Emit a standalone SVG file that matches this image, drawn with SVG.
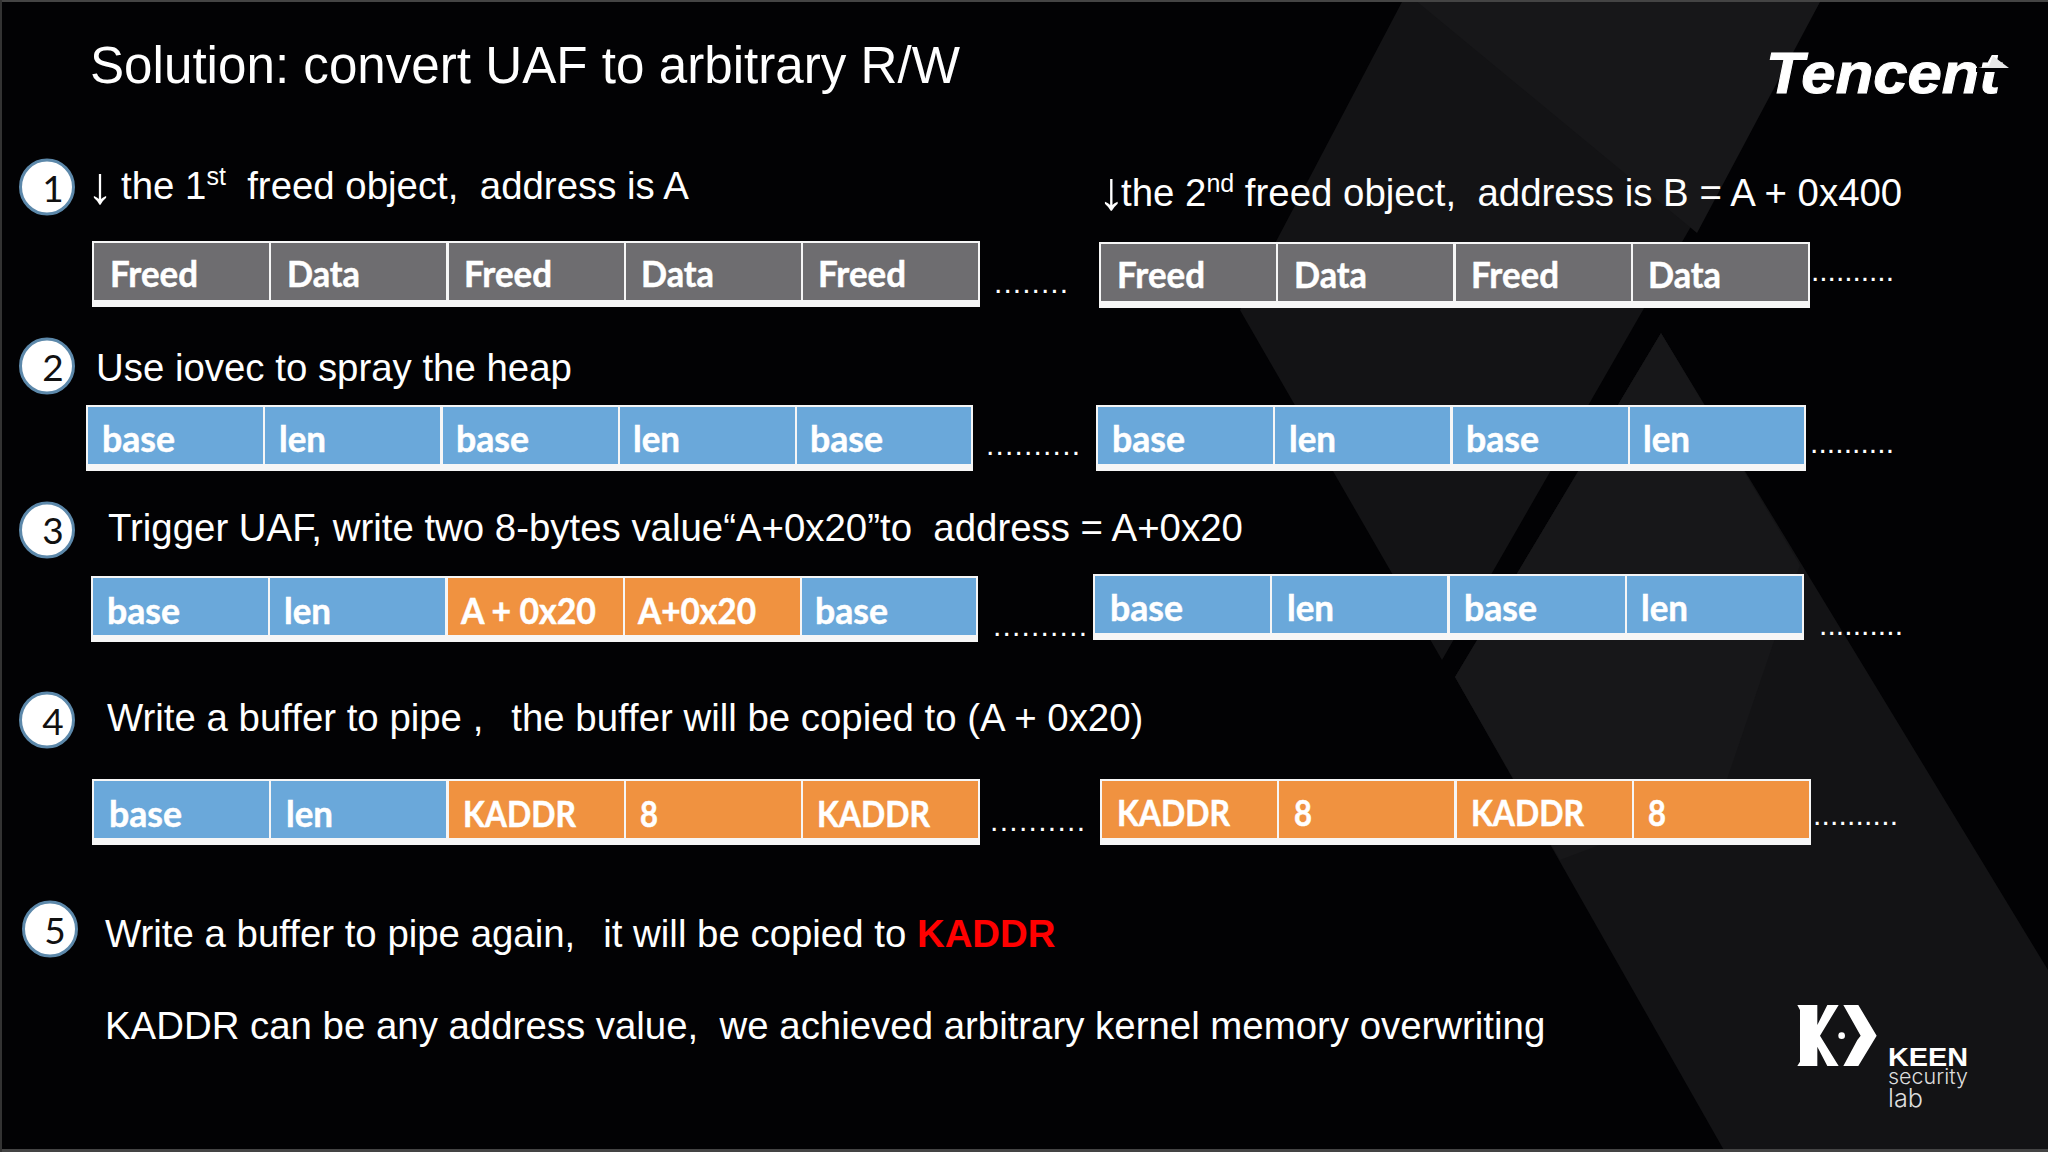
<svg xmlns="http://www.w3.org/2000/svg" width="2048" height="1152" viewBox="0 0 2048 1152">
<style>
.t{font-family:"Liberation Sans",Arial,sans-serif;font-size:38.4px;fill:#fff}
.c{font-family:Lato,"Open Sans",sans-serif;font-weight:700;font-size:36px;fill:#fff;stroke:#fff;stroke-width:.5}
.n{font-family:Lato,"Open Sans",sans-serif;font-size:37px;fill:#111;text-anchor:middle}
.d{font-family:"Liberation Sans",Arial,sans-serif;font-size:30px;fill:#fff}
.o{fill:#f6f6f6}
.g{fill:#6e6d70}.b{fill:#6aa8da}.r{fill:#f09240}
.k{fill:#fff;stroke:#5c88aa;stroke-width:3}
</style>
<rect width="2048" height="1152" fill="#020204"/>
<g id="background">
<polygon points="1403,0 1821,0 1442,660 1240,310" fill="#131315"/>
<polygon points="1415,0 1821,0 1697,233" fill="#171719"/>
<polygon points="1661,333 2048,970 2048,1152 1725,1152 1455,677" fill="#131315"/>
<polygon points="1661,333 1800,565 1720,800 1560,860 1455,677" fill="#171719"/>
<rect width="2048" height="2" fill="#444"/>
<rect y="1149" width="2048" height="3" fill="#444"/>
<rect width="2" height="1152" fill="#333"/>
</g>
<text class="t" x="90" y="83" style="font-size:51px" textLength="870" lengthAdjust="spacingAndGlyphs">Solution: convert UAF to arbitrary R/W</text>

<g id="step1">
<ellipse class="k" cx="47" cy="187" rx="26.5" ry="27"/><text class="n" x="53" y="202">1</text>
<text class="t" x="87" y="203" style="font-size:52px">↓</text>
<text class="t" x="121" y="199">the 1<tspan font-size="25" dy="-14">st</tspan><tspan dy="14" xml:space="preserve">  freed object,  address is A</tspan></text>
</g>
<g id="row1a" transform="translate(92,241)">
<rect class="o" width="888" height="66"/>
<rect class="g" x="2" y="2" width="175" height="57"/><rect class="g" x="179" y="2" width="175" height="57"/><rect class="g" x="357" y="2" width="175" height="57"/><rect class="g" x="534" y="2" width="175" height="57"/><rect class="g" x="711" y="2" width="175" height="57"/>
<text class="c" x="18" y="46" textLength="88" lengthAdjust="spacingAndGlyphs">Freed</text>
<text class="c" x="195" y="46" textLength="73" lengthAdjust="spacingAndGlyphs">Data</text>
<text class="c" x="372" y="46" textLength="88" lengthAdjust="spacingAndGlyphs">Freed</text>
<text class="c" x="549" y="46" textLength="73" lengthAdjust="spacingAndGlyphs">Data</text>
<text class="c" x="726" y="46" textLength="88" lengthAdjust="spacingAndGlyphs">Freed</text>
</g>
<text class="d" x="994" y="293" textLength="74">........</text>
<g id="step1b">
<text class="t" x="1098" y="209" style="font-size:54px">↓</text>
<text class="t" x="1121" y="206">the 2<tspan font-size="25" dy="-14">nd</tspan><tspan dy="14" xml:space="preserve"> freed object,  address is B = A + 0x400</tspan></text>
</g>
<g id="row1b" transform="translate(1099,242)">
<rect class="o" width="711" height="66"/>
<rect class="g" x="2" y="2" width="175" height="57"/><rect class="g" x="179" y="2" width="175" height="57"/><rect class="g" x="357" y="2" width="175" height="57"/><rect class="g" x="534" y="2" width="175" height="57"/>
<text class="c" x="18" y="46" textLength="88" lengthAdjust="spacingAndGlyphs">Freed</text>
<text class="c" x="195" y="46" textLength="73" lengthAdjust="spacingAndGlyphs">Data</text>
<text class="c" x="372" y="46" textLength="88" lengthAdjust="spacingAndGlyphs">Freed</text>
<text class="c" x="549" y="46" textLength="73" lengthAdjust="spacingAndGlyphs">Data</text>
</g>
<text class="d" x="1811" y="281" textLength="83">..........</text>

<g id="step2">
<ellipse class="k" cx="47" cy="366" rx="26.5" ry="27"/><text class="n" x="53" y="381">2</text>
<text class="t" x="96" y="381">Use iovec to spray the heap</text>
</g>
<g id="row2a" transform="translate(86,405)">
<rect class="o" width="887" height="66"/>
<rect class="b" x="2" y="2" width="175" height="57"/><rect class="b" x="179" y="2" width="175" height="57"/><rect class="b" x="357" y="2" width="175" height="57"/><rect class="b" x="534" y="2" width="175" height="57"/><rect class="b" x="711" y="2" width="174" height="57"/>
<text class="c" x="16" y="47" textLength="73" lengthAdjust="spacingAndGlyphs">base</text>
<text class="c" x="193" y="47" textLength="47" lengthAdjust="spacingAndGlyphs">len</text>
<text class="c" x="370" y="47" textLength="73" lengthAdjust="spacingAndGlyphs">base</text>
<text class="c" x="547" y="47" textLength="47" lengthAdjust="spacingAndGlyphs">len</text>
<text class="c" x="724" y="47" textLength="73" lengthAdjust="spacingAndGlyphs">base</text>
</g>
<text class="d" x="986" y="455" textLength="94">..........</text>
<g id="row2b" transform="translate(1096,405)">
<rect class="o" width="710" height="66"/>
<rect class="b" x="2" y="2" width="175" height="57"/><rect class="b" x="179" y="2" width="175" height="57"/><rect class="b" x="357" y="2" width="175" height="57"/><rect class="b" x="534" y="2" width="174" height="57"/>
<text class="c" x="16" y="47" textLength="73" lengthAdjust="spacingAndGlyphs">base</text>
<text class="c" x="193" y="47" textLength="47" lengthAdjust="spacingAndGlyphs">len</text>
<text class="c" x="370" y="47" textLength="73" lengthAdjust="spacingAndGlyphs">base</text>
<text class="c" x="547" y="47" textLength="47" lengthAdjust="spacingAndGlyphs">len</text>
</g>
<text class="d" x="1810" y="453" textLength="84">..........</text>

<g id="step3">
<ellipse class="k" cx="47" cy="530" rx="26.5" ry="27"/><text class="n" x="53" y="544">3</text>
<text class="t" x="108" y="541" xml:space="preserve">Trigger UAF, write two 8-bytes value“A+0x20”to  address = A+0x20</text>
</g>
<g id="row3a" transform="translate(91,576)">
<rect class="o" width="887" height="66"/>
<rect class="b" x="2" y="2" width="175" height="57"/><rect class="b" x="179" y="2" width="175" height="57"/><rect class="r" x="357" y="2" width="175" height="57"/><rect class="r" x="534" y="2" width="175" height="57"/><rect class="b" x="711" y="2" width="174" height="57"/>
<text class="c" x="16" y="48" textLength="73" lengthAdjust="spacingAndGlyphs">base</text>
<text class="c" x="193" y="48" textLength="47" lengthAdjust="spacingAndGlyphs">len</text>
<text class="c" x="370" y="48" textLength="135" lengthAdjust="spacingAndGlyphs">A + 0x20</text>
<text class="c" x="547" y="48" textLength="118" lengthAdjust="spacingAndGlyphs">A+0x20</text>
<text class="c" x="724" y="48" textLength="73" lengthAdjust="spacingAndGlyphs">base</text>
</g>
<text class="d" x="993" y="636" textLength="94">..........</text>
<g id="row3b" transform="translate(1093,574)">
<rect class="o" width="711" height="66"/>
<rect class="b" x="2" y="2" width="175" height="57"/><rect class="b" x="179" y="2" width="175" height="57"/><rect class="b" x="357" y="2" width="175" height="57"/><rect class="b" x="534" y="2" width="175" height="57"/>
<text class="c" x="17" y="47" textLength="73" lengthAdjust="spacingAndGlyphs">base</text>
<text class="c" x="194" y="47" textLength="47" lengthAdjust="spacingAndGlyphs">len</text>
<text class="c" x="371" y="47" textLength="73" lengthAdjust="spacingAndGlyphs">base</text>
<text class="c" x="548" y="47" textLength="47" lengthAdjust="spacingAndGlyphs">len</text>
</g>
<text class="d" x="1819" y="635" textLength="84">..........</text>

<g id="step4">
<ellipse class="k" cx="47" cy="720" rx="26.5" ry="27"/><text class="n" x="53" y="735">4</text>
<text class="t" x="107" y="731" xml:space="preserve">Write a buffer to pipe ,   <tspan dx="-4">the buffer will be copied to (A + 0x20)</tspan></text>
</g>
<g id="row4a" transform="translate(92,779)">
<rect class="o" width="888" height="66"/>
<rect class="b" x="2" y="2" width="175" height="57"/><rect class="b" x="179" y="2" width="175" height="57"/><rect class="r" x="357" y="2" width="175" height="57"/><rect class="r" x="534" y="2" width="175" height="57"/><rect class="r" x="711" y="2" width="175" height="57"/>
<text class="c" x="17" y="48" textLength="73" lengthAdjust="spacingAndGlyphs">base</text>
<text class="c" x="194" y="48" textLength="47" lengthAdjust="spacingAndGlyphs">len</text>
<text class="c" x="371" y="48" textLength="113" lengthAdjust="spacingAndGlyphs">KADDR</text>
<text class="c" x="548" y="48" textLength="18" lengthAdjust="spacingAndGlyphs">8</text>
<text class="c" x="725" y="48" textLength="113" lengthAdjust="spacingAndGlyphs">KADDR</text>
</g>
<text class="d" x="990" y="831" textLength="95">..........</text>
<g id="row4b" transform="translate(1100,779)">
<rect class="o" width="711" height="66"/>
<rect class="r" x="2" y="2" width="175" height="57"/><rect class="r" x="179" y="2" width="175" height="57"/><rect class="r" x="357" y="2" width="175" height="57"/><rect class="r" x="534" y="2" width="175" height="57"/>
<text class="c" x="17" y="47" textLength="113" lengthAdjust="spacingAndGlyphs">KADDR</text>
<text class="c" x="194" y="47" textLength="18" lengthAdjust="spacingAndGlyphs">8</text>
<text class="c" x="371" y="47" textLength="113" lengthAdjust="spacingAndGlyphs">KADDR</text>
<text class="c" x="548" y="47" textLength="18" lengthAdjust="spacingAndGlyphs">8</text>
</g>
<text class="d" x="1813" y="825" textLength="85">..........</text>

<g id="step5">
<ellipse class="k" cx="50" cy="929" rx="26.5" ry="27"/><text class="n" x="55" y="944">5</text>
<text class="t" x="105" y="947" xml:space="preserve">Write a buffer to pipe again,   <tspan dx="-4">it will be copied to </tspan><tspan fill="#ff0000" font-weight="700">KADDR</tspan></text>
<text class="t" x="105" y="1039" xml:space="preserve">KADDR can be any address value,  we achieved arbitrary kernel memory overwriting</text>
</g>

<g id="tencent-logo">
<text x="1766" y="93" font-family="Liberation Sans, Arial, sans-serif" font-weight="700" font-style="italic" font-size="57" fill="#fff" stroke="#fff" stroke-width="1" textLength="234" lengthAdjust="spacingAndGlyphs">Tencent</text>
<rect x="1976" y="68" width="32" height="4" fill="#020204"/>
<polygon points="1993,56 2009,68 1978,68 1989,66" fill="#e8e8e8"/>
</g>
<g id="keen-logo">
<g transform="translate(1740,980) scale(.3333)" fill="#fff">
<path d="M172,75H232V135L262,75H296L240,167L296,258H262L232,200V258H172L180,245V90Z"/>
<path d="M310,75H355L410,167L355,258H310L352,180L362,167Z"/>
<circle cx="305" cy="167" r="10"/>
</g>
<text x="1888" y="1066" font-family="Liberation Sans, Arial, sans-serif" font-weight="700" font-size="25" fill="#fff" textLength="80" lengthAdjust="spacingAndGlyphs">KEEN</text>
<text x="1888" y="1084" font-family="Inter, sans-serif" font-weight="300" font-size="21" fill="#ddd" textLength="80" lengthAdjust="spacingAndGlyphs">security</text>
<text x="1888" y="1107" font-family="Inter, sans-serif" font-weight="300" font-size="25" fill="#ddd" textLength="35" lengthAdjust="spacingAndGlyphs">lab</text>
</g>
</svg>
